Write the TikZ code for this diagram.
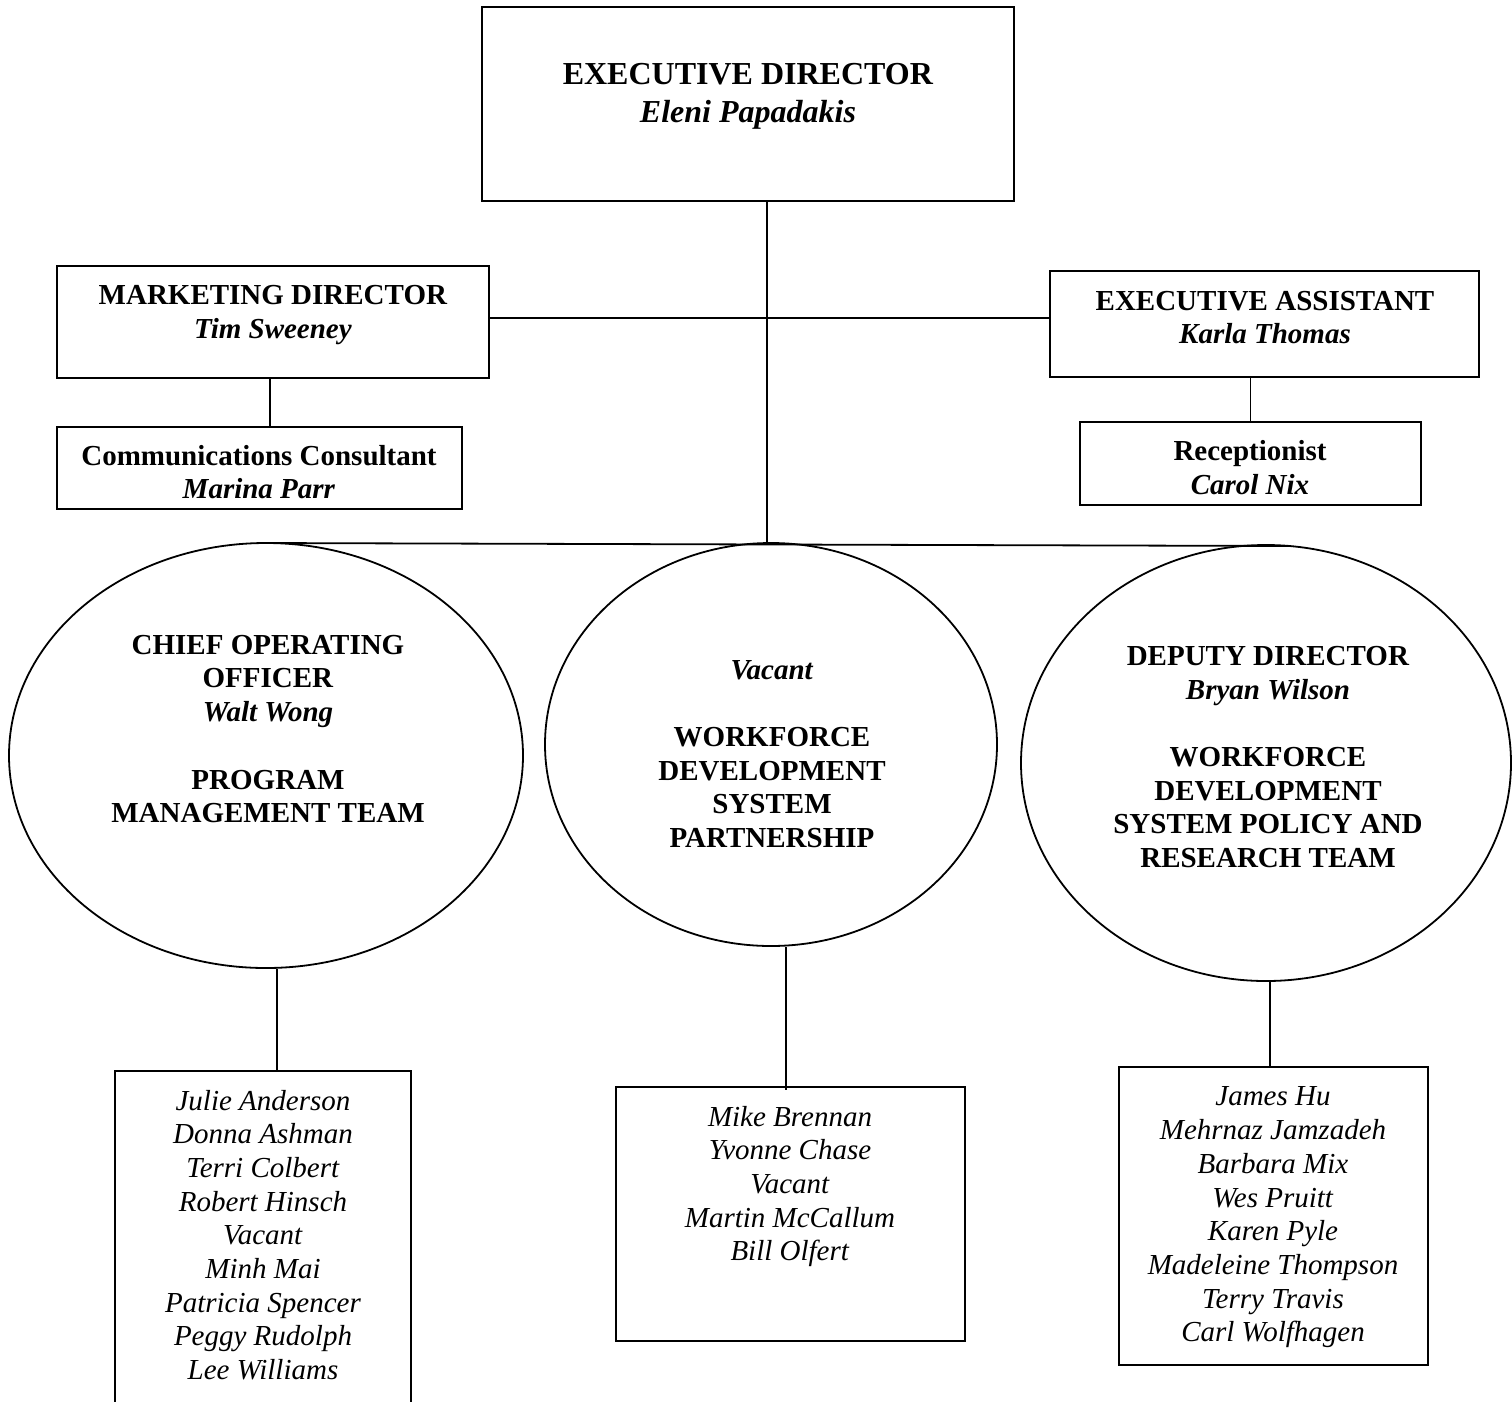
\documentclass[tikz,border=0pt]{standalone}
\usepackage{fontspec}
\setmainfont{Liberation Serif}
\usetikzlibrary{shapes.geometric}
\tikzset{
  box/.style={draw, line width=1.8pt, rectangle, inner sep=0pt},
  oval/.style={draw, line width=1.8pt, ellipse, inner sep=0pt},
  conn/.style={line width=1.8pt},
  txt/.style={align=center, inner sep=0pt, font=\fontsize{29}{33.7}\selectfont},
  bigtxt/.style={align=center, inner sep=0pt, font=\fontsize{32}{38}\selectfont}
}
\begin{document}
\begin{tikzpicture}[x=1pt,y=-1pt]
\useasboundingbox (0,0) rectangle (1512,1401);
\clip (0,0) rectangle (1512,1401);
\fill[white] (0,0) rectangle (1512,1401);

% top boxes
\node[box, minimum width=532pt, minimum height=194pt] (exec) at (748,104) {};
\node[bigtxt] (exectxt) at (748,96) {\textbf{EXECUTIVE DIRECTOR}\\\textbf{\textit{Eleni Papadakis}}};

\node[box, minimum width=432pt, minimum height=112pt] (mkt) at (273,322) {};
\node[txt] (mkttxt) at (273,315) {\textbf{MARKETING DIRECTOR}\\\textbf{\textit{Tim Sweeney}}};

\node[box, minimum width=429pt, minimum height=106pt] (asst) at (1264.5,324) {};
\node[txt] (assttxt) at (1265,317.5) {\textbf{EXECUTIVE ASSISTANT}\\\textbf{\textit{Karla Thomas}}};

\node[box, minimum width=405pt, minimum height=82pt] (comm) at (259.5,468) {};
\node[txt] (commtxt) at (259,472) {\textbf{Communications Consultant}\\\textbf{\textit{Marina Parr}}};

\node[box, minimum width=341pt, minimum height=83pt] (rec) at (1250.5,463.5) {};
\node[txt] (rectxt) at (1250,467.5) {\textbf{Receptionist}\\\textbf{\textit{Carol Nix}}};

% ellipses
\node[oval, minimum width=514pt, minimum height=425pt] (coo) at (266,755.5) {};
\node[txt] (cootxt) at (268,729) {\textbf{CHIEF OPERATING}\\\textbf{OFFICER}\\\textbf{\textit{Walt Wong}}\\[33.7pt]\textbf{PROGRAM}\\\textbf{MANAGEMENT TEAM}};

\node[oval, minimum width=452pt, minimum height=403pt] (wds) at (771,744.5) {};
\node[txt] (wdstxt) at (772,754) {\textbf{\textit{Vacant}}\\[33.7pt]\textbf{WORKFORCE}\\\textbf{DEVELOPMENT}\\\textbf{SYSTEM}\\\textbf{PARTNERSHIP}};

\node[oval, minimum width=490pt, minimum height=436pt] (dd) at (1266,763) {};
\node[txt] (ddtxt) at (1268,757) {\textbf{DEPUTY DIRECTOR}\\\textbf{\textit{Bryan Wilson}}\\[33.7pt]\textbf{WORKFORCE}\\\textbf{DEVELOPMENT}\\\textbf{SYSTEM POLICY AND}\\\textbf{RESEARCH TEAM}};

% bottom boxes
\node[box, minimum width=296pt, minimum height=360pt] (pm) at (263,1251) {};
\node[txt] (pmtxt) at (263,1235) {\textit{Julie Anderson}\\\textit{Donna Ashman}\\\textit{Terri Colbert}\\\textit{Robert Hinsch}\\\textit{Vacant}\\\textit{Minh Mai}\\\textit{Patricia Spencer}\\\textit{Peggy Rudolph}\\\textit{Lee Williams}};

\node[box, minimum width=349pt, minimum height=254pt] (wp) at (790.5,1214) {};
\node[txt] (wptxt) at (790,1186.5) {\textit{Mike Brennan}\\\textit{Yvonne Chase}\\\textit{Vacant}\\\textit{Martin McCallum}\\\textit{Bill Olfert}};

\node[box, minimum width=309pt, minimum height=298pt] (pr) at (1273.5,1216) {};
\node[txt] (prtxt) at (1273,1217.5) {\textit{James Hu}\\\textit{Mehrnaz Jamzadeh}\\\textit{Barbara Mix}\\\textit{Wes Pruitt}\\\textit{Karen Pyle}\\\textit{Madeleine Thompson}\\\textit{Terry Travis}\\\textit{Carl Wolfhagen}};

% connectors
\coordinate (h) at (767,318);
\coordinate (barL) at (259,543);
\coordinate (barR) at (1290,546);
\coordinate (J) at (767,544.5);

\draw[conn] (mkt.east |- h) -- (asst.west |- h);
\draw[conn] ([xshift=19pt]exec.south) -- (J);
\draw[conn] (barL) -- (barR);
\draw[conn] ([xshift=-3pt]mkt.south) -- ([xshift=-3pt]mkt.south |- comm.north);
\draw[conn] (rec.north |- asst.south) -- (rec.north);
\draw[conn] ([xshift=11pt]coo.south) -- ([xshift=11pt]coo.south |- pm.north);
\draw[conn] ([xshift=15pt]wds.south) -- ([xshift=15pt,yshift=-4pt]wds.south |- wp.north);
\draw[conn] ([xshift=4pt]dd.south) -- ([xshift=4pt]dd.south |- pr.north);
\end{tikzpicture}
\end{document}
